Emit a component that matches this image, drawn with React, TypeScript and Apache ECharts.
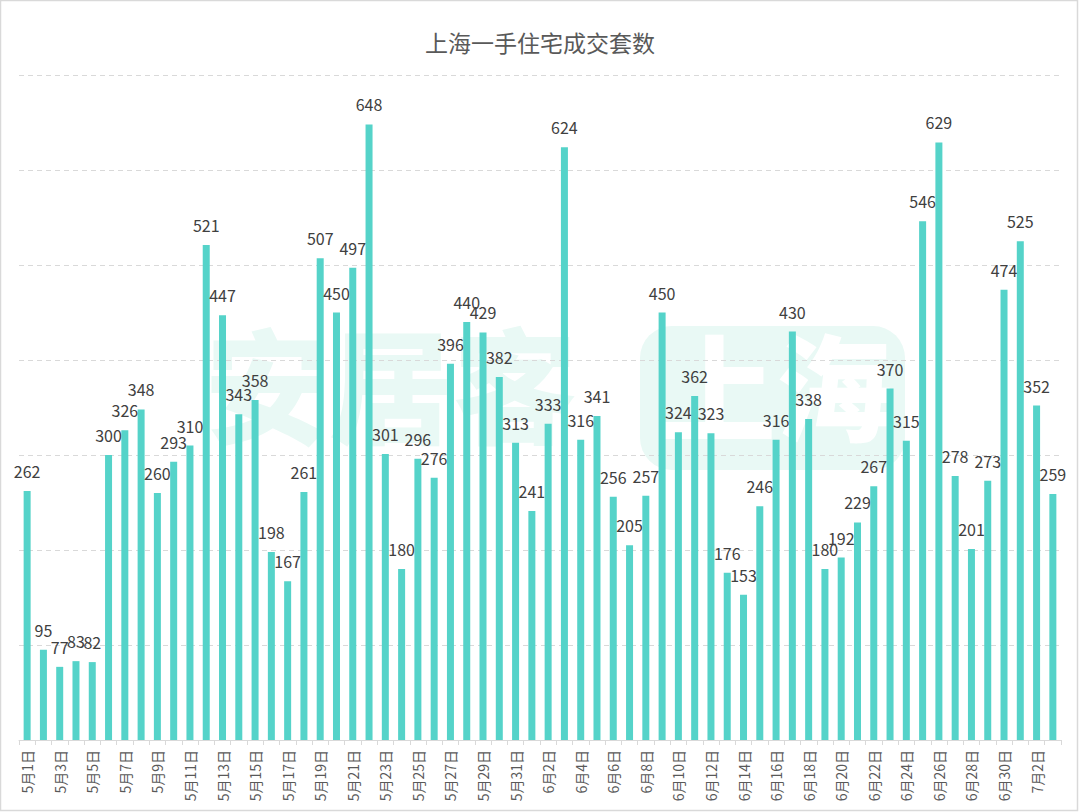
import React, { useEffect, useRef } from "react";
import * as echarts from "echarts";

const title = "上海一手住宅成交套数";

const categories: string[] = [
  "5月1日","5月2日","5月3日","5月4日","5月5日","5月6日","5月7日","5月8日","5月9日","5月10日",
  "5月11日","5月12日","5月13日","5月14日","5月15日","5月16日","5月17日","5月18日","5月19日","5月20日",
  "5月21日","5月22日","5月23日","5月24日","5月25日","5月26日","5月27日","5月28日","5月29日","5月30日",
  "5月31日",
  "6月1日","6月2日","6月3日","6月4日","6月5日","6月6日","6月7日","6月8日","6月9日","6月10日",
  "6月11日","6月12日","6月13日","6月14日","6月15日","6月16日","6月17日","6月18日","6月19日","6月20日",
  "6月21日","6月22日","6月23日","6月24日","6月25日","6月26日","6月27日","6月28日","6月29日","6月30日",
  "7月1日","7月2日","7月3日",
];

const sales: number[] = [
  262, 95, 77, 83, 82, 300, 326, 348, 260, 293,
  310, 521, 447, 343, 358, 198, 167, 261, 507, 450,
  497, 648, 301, 180, 296, 276, 396, 440, 429, 382,
  313,
  241, 333, 624, 316, 341, 256, 205, 257, 450, 324,
  362, 323, 176, 153, 246, 316, 430, 338, 180, 192,
  229, 267, 370, 315, 546, 629, 278, 201, 273, 474,
  525, 352, 259,
];

const watermarkLeft = "安居客";
const watermarkRight = "上海";

const FONT = '"Noto Sans CJK SC", "Noto Sans", sans-serif';

export default function App() {
  const ref = useRef<HTMLDivElement>(null);

  useEffect(() => {
    if (!ref.current) return;
    const chart = echarts.init(ref.current, undefined, { renderer: "svg" });
    chart.setOption({
      animation: false,
      backgroundColor: "#ffffff",
      title: {
        text: title,
        left: "center",
        top: 25,
        textStyle: {
          color: "#595959",
          fontSize: 23,
          fontWeight: "normal",
          fontFamily: FONT,
        },
      },
      graphic: [
        {
          type: "rect",
          z: -20,
          silent: true,
          shape: { x: 0.5, y: 0.5, width: 1077, height: 810 },
          style: { fill: "none", stroke: "#d9d9d9", lineWidth: 1.5 },
        },
        {
          type: "text",
          z: -10,
          silent: true,
          left: 205,
          top: 318,
          style: {
            text: watermarkLeft,
            fill: "#e9f9f5",
            font: `900 124px ${FONT}`,
          },
        },
        {
          type: "rect",
          z: -10,
          silent: true,
          shape: { x: 640, y: 326, width: 265, height: 144, r: 32 },
          style: { fill: "#e9f9f5" },
        },
        {
          type: "text",
          z: -9,
          silent: true,
          left: 660,
          top: 324,
          style: {
            text: watermarkRight,
            fill: "#ffffff",
            font: `900 116px ${FONT}`,
          },
        },
      ],
      grid: {
        left: 19,
        right: 19,
        top: 75,
        bottom: 72,
        containLabel: false,
      },
      xAxis: {
        type: "category",
        data: categories,
        boundaryGap: true,
        axisLine: { show: true, lineStyle: { color: "#d9d9d9", width: 1 } },
        axisTick: {
          show: true,
          interval: 0,
          length: 5,
          lineStyle: { color: "#d9d9d9" },
        },
        axisLabel: {
          interval: 1,
          rotate: 90,
          margin: 10,
          color: "#595959",
          fontSize: 14,
          fontFamily: FONT,
        },
      },
      yAxis: {
        type: "value",
        min: 0,
        max: 700,
        interval: 100,
        axisLine: { show: false },
        axisTick: { show: false },
        axisLabel: { show: false },
        splitLine: {
          show: true,
          lineStyle: { color: "#d9d9d9", type: [5, 4], width: 1 },
        },
      },
      series: [
        {
          type: "bar",
          data: sales,
          barWidth: 7,
          itemStyle: { color: "#55d3c9" },
          label: {
            show: true,
            position: "top",
            distance: 12,
            color: "#404040",
            fontSize: 16,
            fontFamily: FONT,
          },
        },
      ],
    });
    return () => chart.dispose();
  }, []);

  return (
    <div
      ref={ref}
      style={{ position: "fixed", left: 0, top: 0, width: 1080, height: 812 }}
    />
  );
}
